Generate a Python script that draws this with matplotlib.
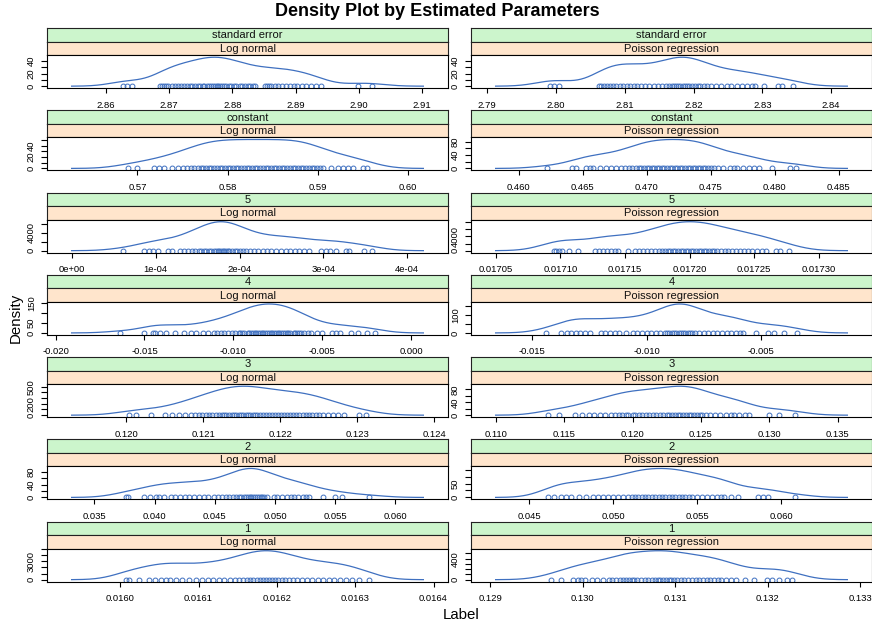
import numpy as np
import matplotlib
matplotlib.use("Agg")
import matplotlib.pyplot as plt

plt.rcParams['font.family'] = ['Liberation Sans', 'DejaVu Sans']
plt.rcParams['axes.unicode_minus'] = False

# ---------------- data ----------------
params = ["standard error", "constant", "5", "4", "3", "2", "1"]
methods = ["Log normal", "Poisson regression"]

se_lognormal = [2.8627, 2.8633, 2.8642, 2.8686, 2.8689, 2.8692, 2.8695, 2.8699, 2.8704, 2.8709,
                2.8714, 2.8719, 2.8724, 2.8729, 2.8733, 2.8737, 2.8741, 2.8745, 2.8749, 2.8753,
                2.8756, 2.8760, 2.8763, 2.8766, 2.8769, 2.8772, 2.8775, 2.8778, 2.8781, 2.8784,
                2.8787, 2.8790, 2.8794, 2.8798, 2.8802, 2.8806, 2.8812, 2.8816, 2.8820, 2.8824,
                2.8828, 2.8832, 2.8836, 2.8852, 2.8855, 2.8858, 2.8861, 2.8867, 2.8873, 2.8879,
                2.8885, 2.8891, 2.8897, 2.8903, 2.8910, 2.8917, 2.8925, 2.8933, 2.8940, 2.8998,
                2.9021]
se_poisson = [2.7992, 2.7997, 2.8005, 2.8063, 2.8066, 2.8070, 2.8074, 2.8078, 2.8083, 2.8088,
              2.8093, 2.8098, 2.8103, 2.8108, 2.8113, 2.8118, 2.8124, 2.8130, 2.8136, 2.8142,
              2.8148, 2.8154, 2.8160, 2.8165, 2.8169, 2.8172, 2.8175, 2.8178, 2.8181, 2.8184,
              2.8187, 2.8190, 2.8194, 2.8198, 2.8202, 2.8206, 2.8210, 2.8215, 2.8220, 2.8226,
              2.8233, 2.8240, 2.8248, 2.8255, 2.8263, 2.8270, 2.8278, 2.8285, 2.8290, 2.8303,
              2.8322, 2.8329, 2.8344]
const_lognormal = [0.5690, 0.5699, 0.5718, 0.5724, 0.5729, 0.5738, 0.5745, 0.5750, 0.5755, 0.5759,
                   0.5763, 0.5767, 0.5770, 0.5773, 0.5776, 0.5779, 0.5782, 0.5785, 0.5788, 0.5791,
                   0.5794, 0.5797, 0.5800, 0.5803, 0.5806, 0.5809, 0.5812, 0.5815, 0.5818, 0.5821,
                   0.5824, 0.5827, 0.5830, 0.5833, 0.5836, 0.5839, 0.5842, 0.5845, 0.5848, 0.5851,
                   0.5854, 0.5857, 0.5860, 0.5863, 0.5866, 0.5869, 0.5872, 0.5875, 0.5878, 0.5881,
                   0.5884, 0.5887, 0.5890, 0.5893, 0.5896, 0.5899, 0.5902, 0.5906, 0.5915, 0.5922,
                   0.5928, 0.5933, 0.5939, 0.5950, 0.5954]
const_poisson = [0.4622, 0.4642, 0.4645, 0.4653, 0.4656, 0.4658, 0.4664, 0.4668, 0.4672, 0.4676,
                 0.4680, 0.4683, 0.4686, 0.4689, 0.4692, 0.4694, 0.4696, 0.4698, 0.4700, 0.4702,
                 0.4704, 0.4706, 0.4708, 0.4710, 0.4712, 0.4714, 0.4716, 0.4718, 0.4720, 0.4722,
                 0.4724, 0.4726, 0.4728, 0.4730, 0.4732, 0.4734, 0.4736, 0.4738, 0.4740, 0.4742,
                 0.4744, 0.4746, 0.4748, 0.4750, 0.4753, 0.4756, 0.4760, 0.4765, 0.4768, 0.4771,
                 0.4775, 0.4780, 0.4784, 0.4788, 0.4798, 0.4812, 0.4817]
p5_lognormal = [0.61e-4, 0.86e-4, 0.92e-4, 0.97e-4, 1.03e-4, 1.15e-4, 1.19e-4, 1.29e-4, 1.34e-4, 1.39e-4,
                1.43e-4, 1.47e-4, 1.51e-4, 1.54e-4, 1.57e-4, 1.60e-4, 1.63e-4, 1.66e-4, 1.69e-4, 1.72e-4,
                1.74e-4, 1.76e-4, 1.78e-4, 1.80e-4, 1.82e-4, 1.84e-4, 1.86e-4, 1.88e-4, 1.91e-4, 1.94e-4,
                1.97e-4, 2.00e-4, 2.04e-4, 2.08e-4, 2.12e-4, 2.17e-4, 2.22e-4, 2.28e-4, 2.33e-4, 2.38e-4,
                2.44e-4, 2.50e-4, 2.55e-4, 2.60e-4, 2.66e-4, 2.71e-4, 2.77e-4, 2.83e-4, 2.97e-4, 3.03e-4,
                3.08e-4, 3.15e-4, 3.27e-4, 3.31e-4, 3.49e-4, 3.58e-4]
p5_poisson = [0.017095, 0.017097, 0.017099, 0.017101, 0.017107, 0.017114, 0.017127, 0.017130, 0.017133,
              0.017136, 0.017139, 0.017142, 0.017145, 0.017152, 0.017158, 0.017161, 0.017164, 0.017167,
              0.017170, 0.017173, 0.017176, 0.017179, 0.017181, 0.017183, 0.017185, 0.017187, 0.017189,
              0.017191, 0.017193, 0.017195, 0.017197, 0.017199, 0.017201, 0.017203, 0.017205, 0.017207,
              0.017209, 0.017211, 0.017213, 0.017215, 0.017217, 0.017219, 0.017221, 0.017224, 0.017227,
              0.017230, 0.017233, 0.017236, 0.017239, 0.017242, 0.017245, 0.017248, 0.017252, 0.017256,
              0.017259, 0.017267, 0.017270, 0.017277]
p4_lognormal = [-0.0164, -0.0150, -0.01453, -0.0144, -0.0141, -0.01378, -0.0133, -0.0128, -0.0124, -0.0121,
                -0.0117, -0.0114, -0.0111, -0.0109, -0.0107, -0.0105, -0.0103, -0.0101, -0.0099, -0.0097,
                -0.0096, -0.0095, -0.0094, -0.0092, -0.0091, -0.0090, -0.0089, -0.0088, -0.0087, -0.0086,
                -0.0085, -0.0084, -0.0083, -0.0082, -0.0081, -0.0080, -0.0079, -0.0078, -0.0077, -0.0076,
                -0.0075, -0.0074, -0.0073, -0.0072, -0.0071, -0.0070, -0.0069, -0.0068, -0.0066, -0.0065,
                -0.0064, -0.0063, -0.0062, -0.0060, -0.0058, -0.0056, -0.0053, -0.0050, -0.00445, -0.0042,
                -0.0040, -0.0034, -0.0030, -0.0025, -0.0020]
p4_poisson = [-0.01442, -0.01374, -0.0135, -0.0133, -0.0131, -0.0129, -0.0127, -0.0125, -0.0120, -0.0118,
              -0.0116, -0.0114, -0.0112, -0.0109, -0.0106, -0.0104, -0.0102, -0.0100, -0.0098, -0.0096,
              -0.0094, -0.0092, -0.0091, -0.0090, -0.0089, -0.0088, -0.0087, -0.0086, -0.0085, -0.0084,
              -0.0083, -0.0082, -0.0081, -0.0080, -0.0079, -0.0077, -0.0075, -0.0073, -0.0071, -0.0069,
              -0.0067, -0.0065, -0.0063, -0.0061, -0.0059, -0.00578, -0.0052, -0.0047, -0.00444, -0.0040,
              -0.0034]
p3_lognormal = [0.12004, 0.12013, 0.12032, 0.12050, 0.12060, 0.12068, 0.12076, 0.12084, 0.12089, 0.12094,
                0.12099, 0.12103, 0.12108, 0.12112, 0.12116, 0.12120, 0.12124, 0.12127, 0.12130, 0.12134,
                0.12137, 0.12140, 0.12143, 0.12146, 0.12149, 0.12152, 0.12155, 0.12158, 0.12161, 0.12164,
                0.12167, 0.12170, 0.12174, 0.12178, 0.12181, 0.12185, 0.12189, 0.12193, 0.12197, 0.12201,
                0.12205, 0.12209, 0.12213, 0.12217, 0.12221, 0.12225, 0.12229, 0.12233, 0.12237, 0.12241,
                0.12246, 0.12251, 0.12256, 0.12262, 0.12268, 0.12275, 0.12283, 0.12302, 0.12311]
p3_poisson = [0.1138, 0.1146, 0.1158, 0.1163, 0.1168, 0.1172, 0.1176, 0.1180, 0.1184, 0.1187,
              0.1190, 0.1192, 0.1195, 0.1197, 0.1200, 0.1202, 0.1205, 0.1207, 0.1210, 0.1212,
              0.1215, 0.1217, 0.1220, 0.1222, 0.1225, 0.1227, 0.1229, 0.1231, 0.1233, 0.1235,
              0.1237, 0.1239, 0.1241, 0.1243, 0.1245, 0.1247, 0.1249, 0.1251, 0.1254, 0.1257,
              0.1260, 0.1264, 0.1268, 0.1272, 0.1274, 0.1278, 0.1282, 0.1285, 0.1300, 0.1307,
              0.1319]
p2_lognormal = [0.03762, 0.03776, 0.03914, 0.03960, 0.04010, 0.04040, 0.04080, 0.04135, 0.04170, 0.04210,
                0.04250, 0.04290, 0.04330, 0.04370, 0.04410, 0.04440, 0.04494, 0.04530, 0.04560, 0.04590,
                0.04620, 0.04650, 0.04675, 0.04700, 0.04720, 0.04740, 0.04760, 0.04775, 0.04790, 0.04805,
                0.04820, 0.04835, 0.04850, 0.04865, 0.04880, 0.04895, 0.04910, 0.04936, 0.04990, 0.05020,
                0.05060, 0.05100, 0.05130, 0.05155, 0.05190, 0.05230, 0.05260, 0.05280, 0.05401, 0.05500,
                0.05553, 0.05782]
p2_poisson = [0.04614, 0.04650, 0.04690, 0.04720, 0.04752, 0.04800, 0.04840, 0.04880, 0.04910, 0.04940,
              0.04970, 0.05000, 0.05030, 0.05060, 0.05090, 0.05110, 0.05130, 0.05150, 0.05170, 0.05190,
              0.05210, 0.05230, 0.05250, 0.05270, 0.05290, 0.05310, 0.05330, 0.05350, 0.05370, 0.05390,
              0.05410, 0.05430, 0.05450, 0.05470, 0.05500, 0.05530, 0.05560, 0.05590, 0.05620, 0.05640,
              0.05660, 0.05700, 0.05740, 0.05860, 0.05890, 0.05920, 0.06080]
p1_lognormal = [0.016007, 0.016011, 0.016024, 0.016037, 0.016045, 0.016052, 0.016058, 0.016064, 0.016071,
                0.016079, 0.016088, 0.016097, 0.016105, 0.016112, 0.016119, 0.016126, 0.016133, 0.016140,
                0.016146, 0.016152, 0.016157, 0.016162, 0.016166, 0.016170, 0.016174, 0.016178, 0.016182,
                0.016186, 0.016190, 0.016194, 0.016198, 0.016202, 0.016206, 0.016210, 0.016215, 0.016220,
                0.016226, 0.016232, 0.016238, 0.016245, 0.016252, 0.016259, 0.016267, 0.016273, 0.016280,
                0.016288, 0.016296, 0.016305, 0.016318]
p1_poisson = [0.12966, 0.12977, 0.12990, 0.12995, 0.12998, 0.13003, 0.13010, 0.13016, 0.13022, 0.13028,
              0.13032, 0.13036, 0.13040, 0.13044, 0.13047, 0.13050, 0.13053, 0.13056, 0.13059, 0.13063,
              0.13067, 0.13071, 0.13075, 0.13078, 0.13081, 0.13084, 0.13087, 0.13090, 0.13093, 0.13096,
              0.13099, 0.13102, 0.13106, 0.13110, 0.13114, 0.13118, 0.13122, 0.13126, 0.13130, 0.13134,
              0.13138, 0.13142, 0.13146, 0.13150, 0.13155, 0.13160, 0.13166, 0.13175, 0.13185, 0.13199,
              0.13205, 0.13212, 0.13221, 0.13226]

bw_lognormal = [0.0027, 0.0021, 2.05e-5, 0.0009, 0.00025, 0.0015, 2.3e-5]
bw_poisson = [0.00265, 0.00133, 1.5e-5, 0.00073, 0.00127, 0.00104, 0.0002]

# x tick values / labels
xt_lognormal = [[2.86, 2.87, 2.88, 2.89, 2.90, 2.91], [0.57, 0.58, 0.59, 0.60],
                [0.0, 1e-4, 2e-4, 3e-4, 4e-4], [-0.020, -0.015, -0.010, -0.005, 0.000],
                [0.120, 0.121, 0.122, 0.123, 0.124], [0.035, 0.040, 0.045, 0.050, 0.055, 0.060],
                [0.0160, 0.0161, 0.0162, 0.0163, 0.0164]]
xl_lognormal = [["2.86", "2.87", "2.88", "2.89", "2.90", "2.91"], ["0.57", "0.58", "0.59", "0.60"],
                ["0e+00", "1e-04", "2e-04", "3e-04", "4e-04"], ["-0.020", "-0.015", "-0.010", "-0.005", "0.000"],
                ["0.120", "0.121", "0.122", "0.123", "0.124"], ["0.035", "0.040", "0.045", "0.050", "0.055", "0.060"],
                ["0.0160", "0.0161", "0.0162", "0.0163", "0.0164"]]
xt_poisson = [[2.79, 2.80, 2.81, 2.82, 2.83, 2.84], [0.460, 0.465, 0.470, 0.475, 0.480, 0.485],
              [0.01705, 0.01710, 0.01715, 0.01720, 0.01725, 0.01730], [-0.015, -0.010, -0.005],
              [0.110, 0.115, 0.120, 0.125, 0.130, 0.135], [0.045, 0.050, 0.055, 0.060],
              [0.129, 0.130, 0.131, 0.132, 0.133]]
xl_poisson = [["2.79", "2.80", "2.81", "2.82", "2.83", "2.84"], ["0.460", "0.465", "0.470", "0.475", "0.480", "0.485"],
              ["0.01705", "0.01710", "0.01715", "0.01720", "0.01725", "0.01730"], ["-0.015", "-0.010", "-0.005"],
              ["0.110", "0.115", "0.120", "0.125", "0.130", "0.135"], ["0.045", "0.050", "0.055", "0.060"],
              ["0.129", "0.130", "0.131", "0.132", "0.133"]]

# y tick steps and the tick values that carry a label
ystep_lognormal = [10, 10, 2000, 50, 100, 20, 1000]
ylab_lognormal = [[0, 20, 40], [0, 20, 40], [0, 4000], [0, 50, 150], [0, 200, 500], [0, 40, 80], [0, 3000]]
ystep_poisson = [10, 20, 2000, 50, 20, 25, 100]
ylab_poisson = [[0, 20, 40], [0, 40, 80], [0, 4000], [0, 100], [0, 40, 80], [0, 50], [0, 400]]

data_lognormal = [se_lognormal, const_lognormal, p5_lognormal, p4_lognormal, p3_lognormal, p2_lognormal, p1_lognormal]
data_poisson = [se_poisson, const_poisson, p5_poisson, p4_poisson, p3_poisson, p2_poisson, p1_poisson]

# ---------------- style ----------------
W, H = 872, 626
BLUE = '#3F70C0'
GREEN = '#CCF5CC'
ORANGE = '#FFE5CC'
TICK_FS = 6.8
STRIP_FS = 8.0

fig = plt.figure(figsize=(W / 100, H / 100), dpi=100)


def px_axes(x, y, w, h):
    return fig.add_axes([x / W, 1 - (y + h) / H, w / W, h / H])


def kde(pts, bw):
    pts = np.asarray(pts, dtype=float)
    grid = np.linspace(pts.min() - 3 * bw, pts.max() + 3 * bw, 512)
    z = (grid[:, None] - pts[None, :]) / bw
    dens = np.exp(-0.5 * z ** 2).sum(axis=1) / (len(pts) * bw * np.sqrt(2 * np.pi))
    return grid, dens


def strip(x, y, w, h, color, label):
    ax = px_axes(x, y, w, h)
    ax.set_facecolor(color)
    ax.set_xticks([])
    ax.set_yticks([])
    for s in ax.spines.values():
        s.set_linewidth(0.8)
        s.set_color('#222222')
    ax.text(0.5, 0.47, label, ha='center', va='center', fontsize=STRIP_FS,
            color='#111111', transform=ax.transAxes)


TOP0 = 28.2
PITCH = 82.25
STRIP_H = 13.5
PANEL_H = 33.0
COL_X = [47, 471]
COL_W = 401

for c, (mname, dlist, bws, xts, xls, ysteps, ylabs) in enumerate([
        (methods[0], data_lognormal, bw_lognormal, xt_lognormal, xl_lognormal, ystep_lognormal, ylab_lognormal),
        (methods[1], data_poisson, bw_poisson, xt_poisson, xl_poisson, ystep_poisson, ylab_poisson)]):
    for r in range(7):
        top = TOP0 + PITCH * r
        x0 = COL_X[c]
        strip(x0, top, COL_W, STRIP_H, GREEN, params[r])
        strip(x0, top + STRIP_H, COL_W, STRIP_H, ORANGE, mname)
        ax = px_axes(x0, top + 2 * STRIP_H, COL_W, PANEL_H)
        g, d = kde(dlist[r], bws[r])
        ax.plot(g, d, color=BLUE, lw=0.9)
        ax.plot(dlist[r], np.zeros(len(dlist[r])), 'o', mfc='none', mec=BLUE, ms=3.5, mew=0.7)
        span = g.max() - g.min()
        ax.set_xlim(g.min() - 0.07 * span, g.max() + 0.07 * span)
        dm = d.max()
        ax.set_ylim(-0.07 * dm, 1.07 * dm)
        ax.set_xticks(xts[r])
        ax.set_xticklabels(xls[r])
        step = ysteps[r]
        yt = np.arange(0, 1.07 * dm, step)
        ax.set_yticks(yt)
        ax.set_yticklabels([str(int(v)) if int(round(v)) in ylabs[r] else '' for v in yt])
        ax.tick_params(axis='x', direction='out', length=3.5, width=0.8, labelsize=TICK_FS, pad=5.5)
        ax.tick_params(axis='y', direction='out', length=4, width=0.8, labelsize=TICK_FS, pad=4,
                       labelrotation=90)
        for lab in ax.get_yticklabels():
            lab.set_va('center')
        ax.tick_params(top=False, right=False)
        for s in ax.spines.values():
            s.set_linewidth(0.8)

fig.text(437 / W, 1 - 12 / H, "Density Plot by Estimated Parameters", ha='center', va='center',
         fontsize=13, fontweight='bold')
fig.text(16 / W, 1 - 318 / H, "Density", ha='center', va='center', rotation=90, fontsize=10.8)
fig.text(461 / W, 1 - 615 / H, "Label", ha='center', va='center', fontsize=10.8)

fig.savefig("out.png", dpi=100)
